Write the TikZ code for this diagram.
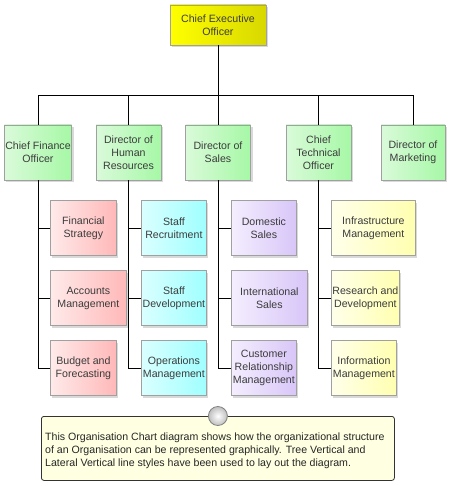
\documentclass[tikz,border=0pt]{standalone}
\usepackage{fontspec}
\setmainfont{Liberation Sans}
\usetikzlibrary{shadows}
\definecolor{boxline}{HTML}{A0A0A0}
\definecolor{boxtext}{HTML}{3C3C3C}
\definecolor{ceoL}{HTML}{FFFF00}
\definecolor{ceoR}{HTML}{D8D800}
\definecolor{dirL}{HTML}{DAFADA}
\definecolor{dirR}{HTML}{A6F8A6}
\definecolor{finL}{HTML}{FFEAEA}
\definecolor{finR}{HTML}{FFB8B8}
\definecolor{hrL}{HTML}{DAFFFF}
\definecolor{hrR}{HTML}{A0FFFF}
\definecolor{salL}{HTML}{F4EEFE}
\definecolor{salR}{HTML}{D8C6F8}
\definecolor{tecL}{HTML}{FFFFEA}
\definecolor{tecR}{HTML}{FFFFB0}
\definecolor{noteF}{HTML}{FFFFE1}
\begin{document}
\begin{tikzpicture}[x=1pt,y=-1pt,
  box/.style={draw=boxline, line width=0.8pt, align=center, text=boxtext,
    font=\fontsize{10.6}{13}\selectfont, minimum height=55pt, inner sep=1pt,
    drop shadow={shadow xshift=2pt, shadow yshift=-2pt, fill=black, opacity=0.15}},
  dir/.style={box, left color=dirL, right color=dirR, minimum width=65pt},
  fin/.style={box, left color=finL, right color=finR, anchor=west},
  hres/.style={box, left color=hrL, right color=hrR, anchor=west},
  sal/.style={box, left color=salL, right color=salR, anchor=west},
  tec/.style={box, left color=tecL, right color=tecR, anchor=west},
  wire/.style={draw=black, line width=0.8pt}]
\useasboundingbox (0,0) rectangle (450,486);
% chief executive
\node[box, left color=ceoL, right color=ceoR, minimum width=96pt, minimum height=40pt] (ceo) at (218,25) {Chief Executive\\Officer};
% directors
\node[dir, minimum width=66pt] (cfo) at (38,152.5) {Chief Finance\\Officer};
\node[dir] (hr) at (128.5,152.5) {Director of\\Human\\Resources};
\node[dir] (sales) at (218,152.5) {Director of\\Sales};
\node[dir] (cto) at (318.5,152.5) {Chief\\Technical\\Officer};
\node[dir, minimum width=64pt] (mkt) at (413,152.5) {Director of\\Marketing};
% departments
\node[fin, minimum width=66pt] (fin1) at (50,228) {Financial\\Strategy};
\node[fin, minimum width=76pt] (fin2) at (50,298) {Accounts\\Management};
\node[fin, minimum width=66pt] (fin3) at (50,368) {Budget and\\Forecasting};
\node[hres, minimum width=65pt] (hr1) at (141,228) {Staff\\Recruitment};
\node[hres, minimum width=65pt] (hr2) at (141,298) {Staff\\Development};
\node[hres, minimum width=65pt] (hr3) at (141,368) {Operations\\Management};
\node[sal, minimum width=65pt] (sal1) at (231,228) {Domestic\\Sales};
\node[sal, minimum width=76pt] (sal2) at (231,298) {International\\Sales};
\node[sal, minimum width=65pt] (sal3) at (231,368) {Customer\\Relationship\\Management};
\node[tec, minimum width=84pt] (tec1) at (331,228) {Infrastructure\\Management};
\node[tec, minimum width=65pt] (tec2) at (331,298) {Research and\\Development};
\node[tec, minimum width=65pt] (tec3) at (331,368) {Information\\Management};
% tree lines
\coordinate (bus) at (218,95);
\draw[wire] (ceo.south) -- (bus);
\foreach \n in {cfo,hr,sales,cto,mkt}
  \draw[wire] (bus) -| (\n.north);
\foreach \p/\c in {cfo/fin,hr/hr,sales/sal,cto/tec}{
  \foreach \i in {1,2,3}
    \draw[wire] (\p.south) |- (\c\i.west);
}
% note
\node[draw=black!80, line width=0.8pt, fill=noteF, rounded corners=2.5pt, anchor=north west,
  minimum width=353pt, minimum height=64pt] (note) at (41,416) {};
\node[anchor=north west, align=left, inner sep=0pt, text=black!85,
  font=\fontsize{10.6}{13}\selectfont] (notetxt) at (45,432.5)
  {This Organisation Chart diagram shows how the organizational structure\\
   of an Organisation can be represented graphically. Tree Vertical and\\
   Lateral Vertical line styles have been used to lay out the diagram.};
\node[circle, draw=black!50, line width=0.8pt, inner sep=0pt, minimum size=19pt,
  inner color=white, outer color=black!25] (pin) at (note.north) {};
\end{tikzpicture}
\end{document}
